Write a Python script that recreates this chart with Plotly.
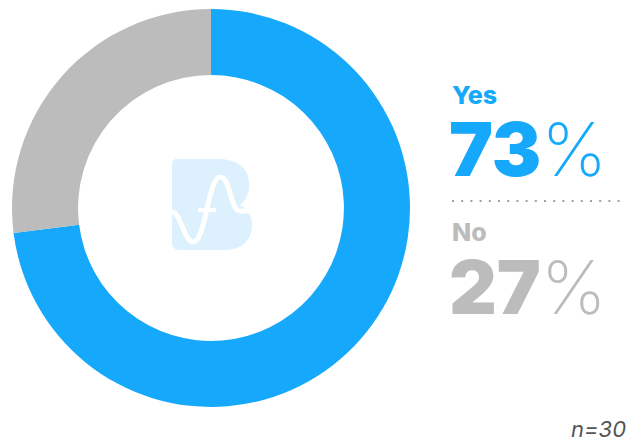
import plotly.graph_objects as go

labels = ["Yes", "No"]
values = [73, 27]
colors = ["#16a9fb", "#bcbcbc"]
n_label = "n=30"

fig = go.Figure()
fig.add_trace(go.Pie(
    labels=labels, values=values, hole=0.668, sort=False, direction="clockwise",
    rotation=0, marker=dict(colors=colors, line=dict(width=0)),
    textinfo="none", hoverinfo="label+percent", showlegend=False,
    domain=dict(x=[12/636, 410/636], y=[1-407/444, 1-9/444]),
))

W, H = 636, 444
def px(x): return x / W
def py(y): return 1 - y / H

# center logo (decoration)
b_path = ("M 177 159 L 218 159 C 240 159 251 171 249 188 C 248 197 244 202 240 205 "
          "C 248 209 253 217 252 227 C 251 241 241 250 225 250 L 179 250 "
          "C 175 250 172 247 172 243 L 172 165 C 172 161 174 159 177 159 Z")
curve = ("M 172 212 C 181 212 184 242 193 242 C 206 242 208 177 220 177 "
         "C 231 177 230 211 240 211 L 252 211")
def to_paper(path):
    toks = path.split()
    nums = []
    res = []
    for t in toks:
        if t.isalpha():
            res.append(t)
        else:
            nums.append(float(t))
            if len(nums) == 2:
                res.append(f"{px(nums[0]):.5f},{py(nums[1]):.5f}")
                nums = []
    return " ".join(res)
fig.add_shape(type="path", xref="paper", yref="paper", path=to_paper(b_path),
              fillcolor="#dcf0fd", line=dict(width=0), layer="above")
fig.add_shape(type="path", xref="paper", yref="paper", path=to_paper(curve),
              line=dict(color="white", width=5), layer="above")
fig.add_shape(type="line", xref="paper", yref="paper",
              x0=px(198), x1=px(216), y0=py(210), y1=py(210),
              line=dict(color="white", width=4), layer="above")

fam = "Inter"
def big(v):
    return (f"<span style='font-weight:900'>{v}</span>"
            f"<span style='font-weight:200'>%</span>")

fig.add_annotation(x=px(450), y=py(95), xref="paper", yref="paper", xanchor="left",
                   yanchor="middle", showarrow=False, text=labels[0], height=24,
                   font=dict(family=fam, size=25, color=colors[0], weight=800))
fig.add_annotation(x=px(447), y=py(149), xref="paper", yref="paper", xanchor="left",
                   yanchor="middle", showarrow=False, text=big(values[0]), height=64,
                   font=dict(family=fam, size=74, color=colors[0]))
fig.add_shape(type="line", xref="paper", yref="paper", x0=px(452), x1=px(620),
              y0=py(201), y1=py(201),
              line=dict(color="#a0a0a0", width=2.2, dash="2px,7.2px"))
fig.add_annotation(x=px(450), y=py(232), xref="paper", yref="paper", xanchor="left",
                   yanchor="middle", showarrow=False, text=labels[1], height=24,
                   font=dict(family=fam, size=25, color=colors[1], weight=800))
fig.add_annotation(x=px(447), y=py(287), xref="paper", yref="paper", xanchor="left",
                   yanchor="middle", showarrow=False, text=big(values[1]), height=64,
                   font=dict(family=fam, size=74, color=colors[1]))
fig.add_annotation(x=px(628), y=py(429), xref="paper", yref="paper", xanchor="right",
                   yanchor="middle", showarrow=False, text=f"<i>{n_label}</i>",
                   font=dict(family=fam, size=22, color="#555555"))

fig.update_layout(width=W, height=H, margin=dict(l=0, r=0, t=0, b=0),
                  paper_bgcolor="white", plot_bgcolor="white")
fig.write_html("out.html")
